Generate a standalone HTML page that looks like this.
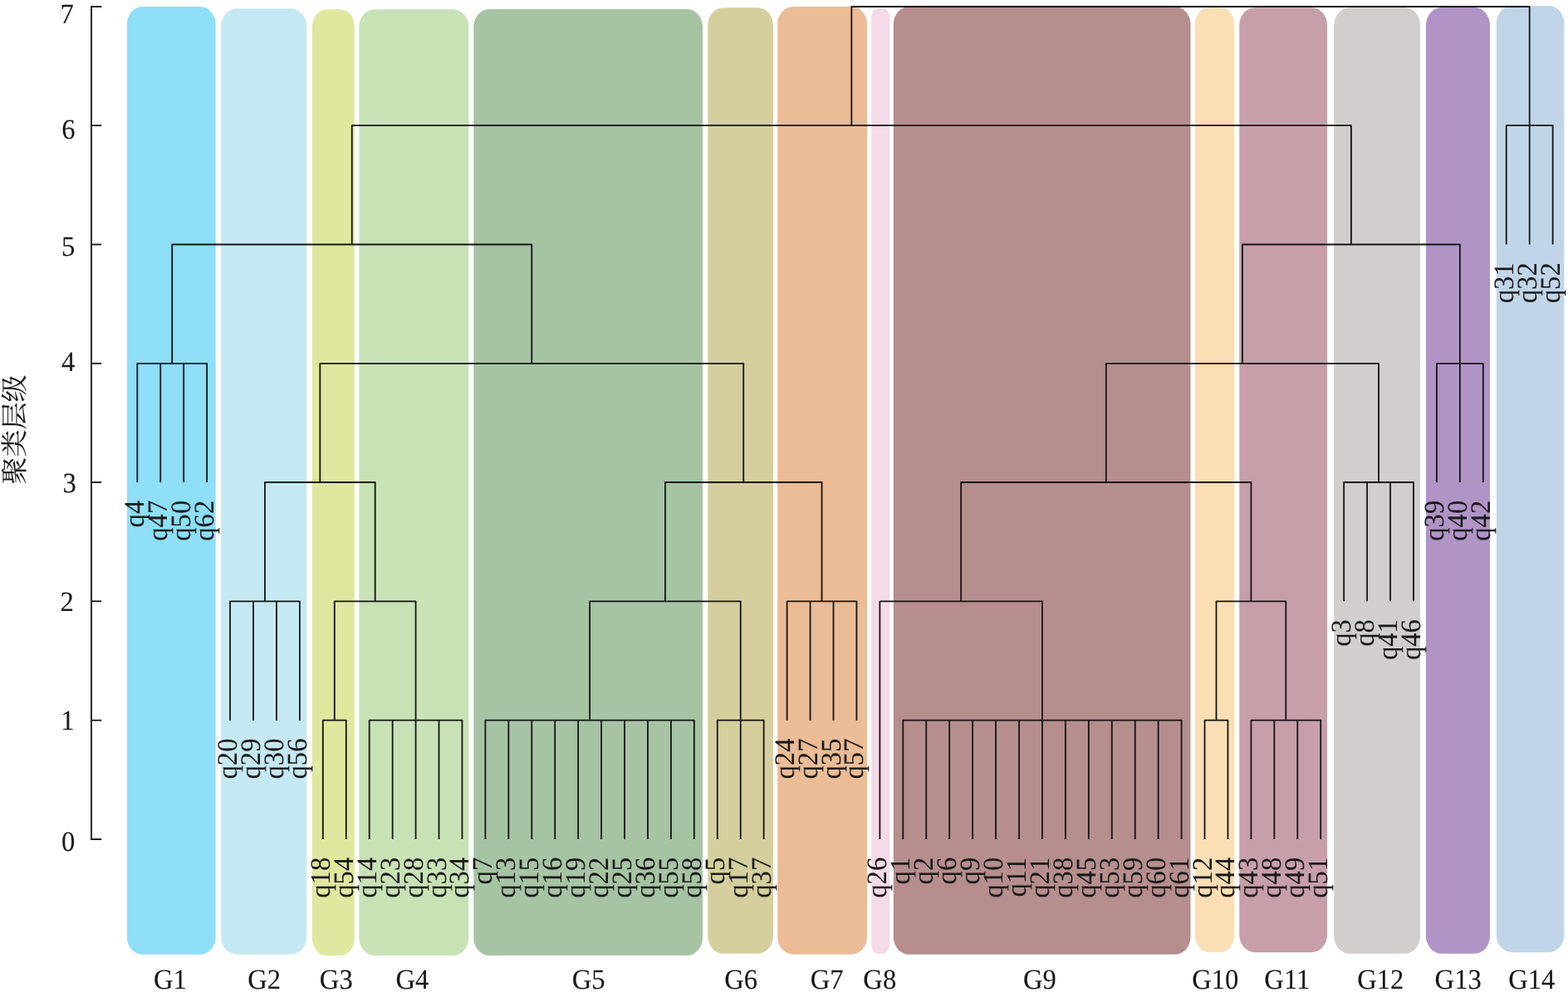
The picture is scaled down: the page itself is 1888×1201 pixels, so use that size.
<!DOCTYPE html>
<html lang="zh-CN"><head><meta charset="utf-8"><title>聚类层级 dendrogram</title>
<style>
html,body{margin:0;padding:0;background:#fff;}
body{width:1888px;height:1201px;overflow:hidden;}
svg{display:block;}
text{font-family:"Liberation Serif","Noto Serif CJK SC",serif;fill:#1a1a1a;stroke:#1a1a1a;stroke-width:0.1px;text-rendering:geometricPrecision;}
.leaf{font-size:34.0px;text-anchor:end;}
.g{font-size:34.0px;text-anchor:middle;}
.tick{font-size:34.0px;text-anchor:middle;}
.title{font-size:33px;text-anchor:middle;font-family:"Noto Serif CJK SC","Liberation Serif",serif;}
.ln{stroke:#141414;stroke-width:1.8;fill:none;stroke-linecap:butt;stroke-linejoin:round;}
.ax{stroke:#141414;stroke-width:1.8;fill:none;}
</style></head><body>
<svg width="1888" height="1201" viewBox="0 0 1888 1201">
<rect x="0" y="0" width="1888" height="1201" fill="#ffffff"/>
<g>
<rect x="152.8" y="8" width="106.9" height="1141.8" rx="19" ry="21" fill="#8EDFF7"/>
<rect x="266.2" y="10.3" width="103" height="1139.4" rx="19" ry="21" fill="#C5E9F3"/>
<rect x="375.8" y="11.3" width="51.2" height="1139.7" rx="17" ry="21" fill="#E0E8A0"/>
<rect x="432.4" y="11.3" width="131.9" height="1139.7" rx="19" ry="21" fill="#C8E2B6"/>
<rect x="570.3" y="11" width="275.7" height="1140" rx="19" ry="21" fill="#A6C4A3"/>
<rect x="852.3" y="9.2" width="78.6" height="1139.6" rx="19" ry="21" fill="#D4CF9D"/>
<rect x="936.2" y="8" width="107.8" height="1141.7" rx="19" ry="21" fill="#EBBC95"/>
<rect x="1049.2" y="9.8" width="22.1" height="1139.2" rx="9.05" ry="11" fill="#F5DAE8"/>
<rect x="1075.8" y="8" width="357.7" height="1141.8" rx="19" ry="21" fill="#B58E8D"/>
<rect x="1438.7" y="9.2" width="47.8" height="1137.8" rx="17" ry="21" fill="#FADFB5"/>
<rect x="1492.3" y="9.2" width="105.7" height="1138" rx="19" ry="21" fill="#C79FA9"/>
<rect x="1606.3" y="9.2" width="103.7" height="1139.6" rx="19" ry="21" fill="#D2CECD"/>
<rect x="1717" y="9" width="77" height="1139.8" rx="19" ry="21" fill="#B094C6"/>
<rect x="1801.8" y="7" width="81.7" height="1140.2" rx="19" ry="21" fill="#C0D6E8"/>
</g>
<g>
<path class="ax" d="M122.2 8H110V1011H122.2"/>
<path class="ax" d="M110 867.7H122.2"/>
<path class="ax" d="M110 724.3H122.2"/>
<path class="ax" d="M110 581H122.2"/>
<path class="ax" d="M110 437.8H122.2"/>
<path class="ax" d="M110 294.5H122.2"/>
<path class="ax" d="M110 151.2H122.2"/>
<text class="tick" transform="translate(82.2 1025.4) scale(0.96 1)">0</text>
<text class="tick" transform="translate(81.4 878.8) scale(0.96 1)">1</text>
<text class="tick" transform="translate(80.6 735.9) scale(0.96 1)">2</text>
<text class="tick" transform="translate(83.6 593) scale(0.96 1)">3</text>
<text class="tick" transform="translate(82.2 447.3) scale(0.96 1)">4</text>
<text class="tick" transform="translate(82.2 308.4) scale(0.96 1)">5</text>
<text class="tick" transform="translate(82.4 166.6) scale(0.96 1)">6</text>
<text class="tick" transform="translate(80.6 28.1) scale(0.96 1)">7</text>
<text class="title" transform="translate(29.0 517.6) rotate(-90)">聚类层级</text>
</g>
<g>
<path class="ln" d="M165.3 581V437.8H249.12V581M193.24 437.8V581M221.18 437.8V581M277.06 867.7V724.3H360.88V867.7M305 724.3V867.7M332.94 724.3V867.7M388.82 1011V867.7H416.76V1011M444.7 1011V867.7H556.46V1011M472.64 867.7V1011M500.58 867.7V1011M528.52 867.7V1011M584.4 1011V867.7H835.86V1011M612.34 867.7V1011M640.28 867.7V1011M668.22 867.7V1011M696.16 867.7V1011M724.1 867.7V1011M752.04 867.7V1011M779.98 867.7V1011M807.92 867.7V1011M863.8 1011V867.7H919.68V1011M891.74 867.7V1011M947.62 867.7V724.3H1031.44V867.7M975.56 724.3V867.7M1003.5 724.3V867.7M1059.38 724.3V1011M1087.32 1011V867.7H1422.6V1011M1115.26 867.7V1011M1143.2 867.7V1011M1171.14 867.7V1011M1199.08 867.7V1011M1227.02 867.7V1011M1254.96 867.7V1011M1282.9 867.7V1011M1310.84 867.7V1011M1338.78 867.7V1011M1366.72 867.7V1011M1394.66 867.7V1011M1450.54 1011V867.7H1478.48V1011M1506.42 1011V867.7H1590.24V1011M1534.36 867.7V1011M1562.3 867.7V1011M1618.18 724.3V581H1702V724.3M1646.12 581V724.3M1674.06 581V724.3M1729.94 581V437.8H1785.82V581M1757.88 437.8V581M1813.76 294.5V151.2H1869.64V294.5M1841.7 151.2V294.5M402.79 867.7V724.3H500.58V867.7M318.97 724.3V581H451.69V724.3M710.13 867.7V724.3H891.74V867.7M800.94 724.3V581H989.53V724.3M385.33 581V437.8H895.23V581M207.21 437.8V294.5H640.28V437.8M1059.38 724.3V724.3H1254.96V867.7M1464.51 867.7V724.3H1548.33V867.7M1157.17 724.3V581H1506.42V724.3M1331.8 581V437.8H1660.09V581M1495.94 437.8V294.5H1757.88V437.8M423.75 294.5V151.2H1626.91V294.5M1025.33 151.2V8H1841.7V151.2"/>
</g>
<g>
<text class="leaf" transform="translate(173.3 602.8) rotate(-90) scale(0.96 1)">q4</text>
<text class="leaf" transform="translate(201.24 602.8) rotate(-90) scale(0.96 1)">q47</text>
<text class="leaf" transform="translate(229.18 602.8) rotate(-90) scale(0.96 1)">q50</text>
<text class="leaf" transform="translate(257.12 602.8) rotate(-90) scale(0.96 1)">q62</text>
<text class="leaf" transform="translate(285.06 889.5) rotate(-90) scale(0.96 1)">q20</text>
<text class="leaf" transform="translate(313 889.5) rotate(-90) scale(0.96 1)">q29</text>
<text class="leaf" transform="translate(340.94 889.5) rotate(-90) scale(0.96 1)">q30</text>
<text class="leaf" transform="translate(368.88 889.5) rotate(-90) scale(0.96 1)">q56</text>
<text class="leaf" transform="translate(396.82 1032.8) rotate(-90) scale(0.96 1)">q18</text>
<text class="leaf" transform="translate(424.76 1032.8) rotate(-90) scale(0.96 1)">q54</text>
<text class="leaf" transform="translate(452.7 1032.8) rotate(-90) scale(0.96 1)">q14</text>
<text class="leaf" transform="translate(480.64 1032.8) rotate(-90) scale(0.96 1)">q23</text>
<text class="leaf" transform="translate(508.58 1032.8) rotate(-90) scale(0.96 1)">q28</text>
<text class="leaf" transform="translate(536.52 1032.8) rotate(-90) scale(0.96 1)">q33</text>
<text class="leaf" transform="translate(564.46 1032.8) rotate(-90) scale(0.96 1)">q34</text>
<text class="leaf" transform="translate(592.4 1032.8) rotate(-90) scale(0.96 1)">q7</text>
<text class="leaf" transform="translate(620.34 1032.8) rotate(-90) scale(0.96 1)">q13</text>
<text class="leaf" transform="translate(648.28 1032.8) rotate(-90) scale(0.96 1)">q15</text>
<text class="leaf" transform="translate(676.22 1032.8) rotate(-90) scale(0.96 1)">q16</text>
<text class="leaf" transform="translate(704.16 1032.8) rotate(-90) scale(0.96 1)">q19</text>
<text class="leaf" transform="translate(732.1 1032.8) rotate(-90) scale(0.96 1)">q22</text>
<text class="leaf" transform="translate(760.04 1032.8) rotate(-90) scale(0.96 1)">q25</text>
<text class="leaf" transform="translate(787.98 1032.8) rotate(-90) scale(0.96 1)">q36</text>
<text class="leaf" transform="translate(815.92 1032.8) rotate(-90) scale(0.96 1)">q55</text>
<text class="leaf" transform="translate(843.86 1032.8) rotate(-90) scale(0.96 1)">q58</text>
<text class="leaf" transform="translate(871.8 1032.8) rotate(-90) scale(0.96 1)">q5</text>
<text class="leaf" transform="translate(899.74 1032.8) rotate(-90) scale(0.96 1)">q17</text>
<text class="leaf" transform="translate(927.68 1032.8) rotate(-90) scale(0.96 1)">q37</text>
<text class="leaf" transform="translate(955.62 889.5) rotate(-90) scale(0.96 1)">q24</text>
<text class="leaf" transform="translate(983.56 889.5) rotate(-90) scale(0.96 1)">q27</text>
<text class="leaf" transform="translate(1011.5 889.5) rotate(-90) scale(0.96 1)">q35</text>
<text class="leaf" transform="translate(1039.44 889.5) rotate(-90) scale(0.96 1)">q57</text>
<text class="leaf" transform="translate(1067.38 1032.8) rotate(-90) scale(0.96 1)">q26</text>
<text class="leaf" transform="translate(1095.32 1032.8) rotate(-90) scale(0.96 1)">q1</text>
<text class="leaf" transform="translate(1123.26 1032.8) rotate(-90) scale(0.96 1)">q2</text>
<text class="leaf" transform="translate(1151.2 1032.8) rotate(-90) scale(0.96 1)">q6</text>
<text class="leaf" transform="translate(1179.14 1032.8) rotate(-90) scale(0.96 1)">q9</text>
<text class="leaf" transform="translate(1207.08 1032.8) rotate(-90) scale(0.96 1)">q10</text>
<text class="leaf" transform="translate(1235.02 1032.8) rotate(-90) scale(0.96 1)">q11</text>
<text class="leaf" transform="translate(1262.96 1032.8) rotate(-90) scale(0.96 1)">q21</text>
<text class="leaf" transform="translate(1290.9 1032.8) rotate(-90) scale(0.96 1)">q38</text>
<text class="leaf" transform="translate(1318.84 1032.8) rotate(-90) scale(0.96 1)">q45</text>
<text class="leaf" transform="translate(1346.78 1032.8) rotate(-90) scale(0.96 1)">q53</text>
<text class="leaf" transform="translate(1374.72 1032.8) rotate(-90) scale(0.96 1)">q59</text>
<text class="leaf" transform="translate(1402.66 1032.8) rotate(-90) scale(0.96 1)">q60</text>
<text class="leaf" transform="translate(1430.6 1032.8) rotate(-90) scale(0.96 1)">q61</text>
<text class="leaf" transform="translate(1458.54 1032.8) rotate(-90) scale(0.96 1)">q12</text>
<text class="leaf" transform="translate(1486.48 1032.8) rotate(-90) scale(0.96 1)">q44</text>
<text class="leaf" transform="translate(1514.42 1032.8) rotate(-90) scale(0.96 1)">q43</text>
<text class="leaf" transform="translate(1542.36 1032.8) rotate(-90) scale(0.96 1)">q48</text>
<text class="leaf" transform="translate(1570.3 1032.8) rotate(-90) scale(0.96 1)">q49</text>
<text class="leaf" transform="translate(1598.24 1032.8) rotate(-90) scale(0.96 1)">q51</text>
<text class="leaf" transform="translate(1626.18 746.1) rotate(-90) scale(0.96 1)">q3</text>
<text class="leaf" transform="translate(1654.12 746.1) rotate(-90) scale(0.96 1)">q8</text>
<text class="leaf" transform="translate(1682.06 746.1) rotate(-90) scale(0.96 1)">q41</text>
<text class="leaf" transform="translate(1710 746.1) rotate(-90) scale(0.96 1)">q46</text>
<text class="leaf" transform="translate(1737.94 602.8) rotate(-90) scale(0.96 1)">q39</text>
<text class="leaf" transform="translate(1765.88 602.8) rotate(-90) scale(0.96 1)">q40</text>
<text class="leaf" transform="translate(1793.82 602.8) rotate(-90) scale(0.96 1)">q42</text>
<text class="leaf" transform="translate(1821.76 316.3) rotate(-90) scale(0.96 1)">q31</text>
<text class="leaf" transform="translate(1849.7 316.3) rotate(-90) scale(0.96 1)">q32</text>
<text class="leaf" transform="translate(1877.64 316.3) rotate(-90) scale(0.96 1)">q52</text>
</g>
<g>
<text class="g" transform="translate(205 1191) scale(0.96 1)">G1</text>
<text class="g" transform="translate(318.2 1191) scale(0.96 1)">G2</text>
<text class="g" transform="translate(404.8 1191) scale(0.96 1)">G3</text>
<text class="g" transform="translate(496.4 1191) scale(0.96 1)">G4</text>
<text class="g" transform="translate(708.7 1191) scale(0.96 1)">G5</text>
<text class="g" transform="translate(892.2 1191) scale(0.96 1)">G6</text>
<text class="g" transform="translate(995.7 1191) scale(0.96 1)">G7</text>
<text class="g" transform="translate(1059.3 1191) scale(0.96 1)">G8</text>
<text class="g" transform="translate(1252 1191) scale(0.96 1)">G9</text>
<text class="g" transform="translate(1463.3 1191) scale(0.96 1)">G10</text>
<text class="g" transform="translate(1549.8 1191) scale(0.96 1)">G11</text>
<text class="g" transform="translate(1662.3 1191) scale(0.96 1)">G12</text>
<text class="g" transform="translate(1755.7 1191) scale(0.96 1)">G13</text>
<text class="g" transform="translate(1844.3 1191) scale(0.96 1)">G14</text>
</g>
</svg></body></html>
